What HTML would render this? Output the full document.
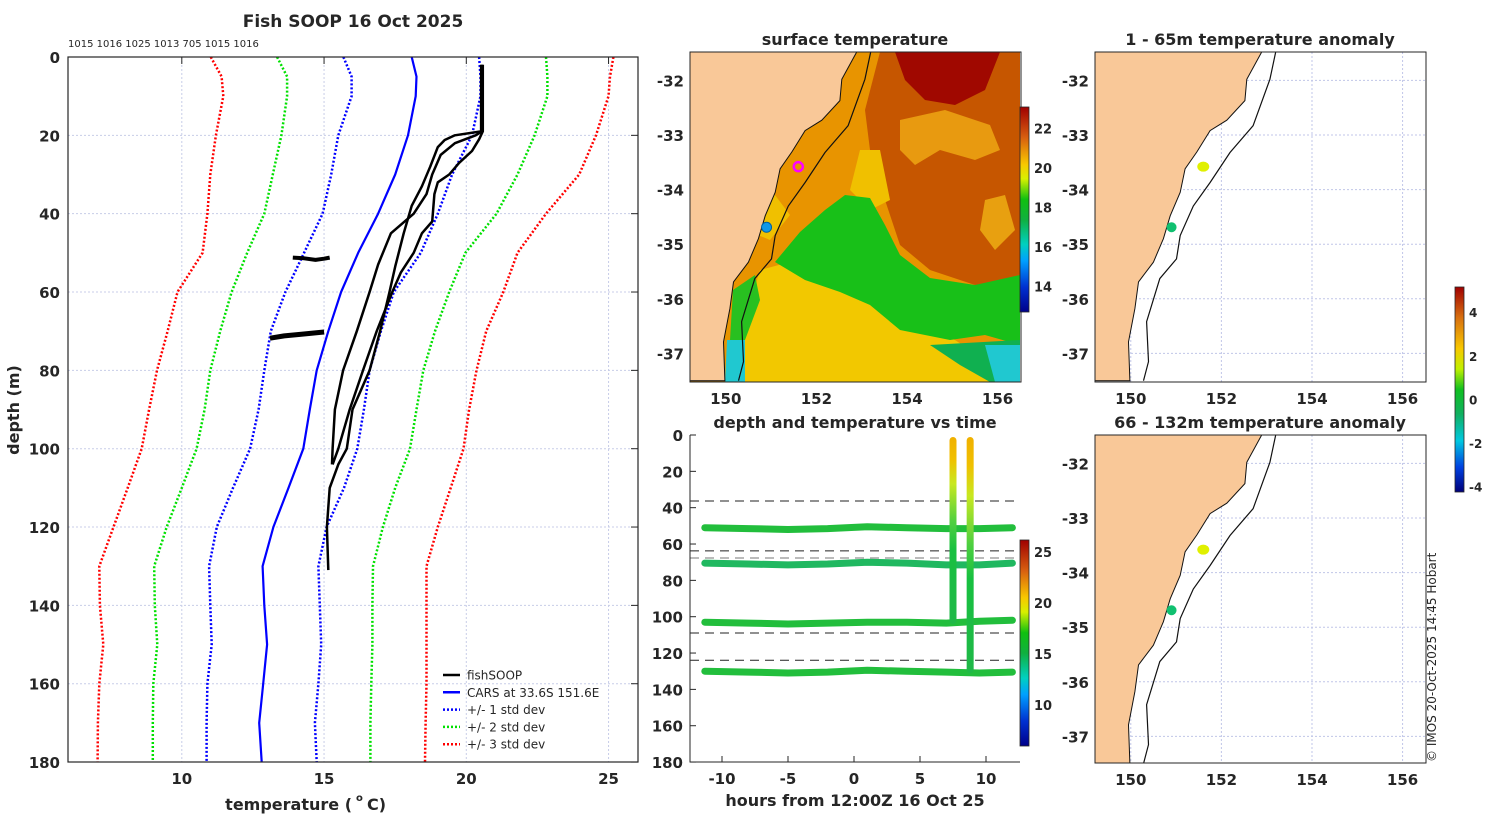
<!DOCTYPE html>
<html><head><meta charset="utf-8"><style>
html,body{margin:0;padding:0;background:#fff}
svg{display:block;font-family:"DejaVu Sans","Liberation Sans",sans-serif}
</style></head><body>
<svg id="fig" width="1500" height="820" viewBox="0 0 1500 820" xmlns="http://www.w3.org/2000/svg">
<defs>
<linearGradient id="sstcb" x1="0" y1="1" x2="0" y2="0">
<stop offset="0" stop-color="#00008a"/><stop offset="0.12" stop-color="#0030d0"/><stop offset="0.25" stop-color="#00a0ff"/><stop offset="0.33" stop-color="#00d0c0"/><stop offset="0.45" stop-color="#10b040"/><stop offset="0.55" stop-color="#10c010"/><stop offset="0.65" stop-color="#d8f000"/><stop offset="0.72" stop-color="#f8c800"/><stop offset="0.85" stop-color="#d86010"/><stop offset="1" stop-color="#a00000"/></linearGradient>
<linearGradient id="anomcb" x1="0" y1="1" x2="0" y2="0">
<stop offset="0" stop-color="#00007a"/><stop offset="0.12" stop-color="#0040e0"/><stop offset="0.25" stop-color="#00c8e0"/><stop offset="0.38" stop-color="#10b060"/><stop offset="0.5" stop-color="#10c020"/><stop offset="0.6" stop-color="#c0f000"/><stop offset="0.7" stop-color="#f8c800"/><stop offset="0.85" stop-color="#d87010"/><stop offset="1" stop-color="#a00000"/></linearGradient>
<linearGradient id="vtrack" x1="0" y1="0" x2="0" y2="1">
<stop offset="0" stop-color="#f0b000"/><stop offset="0.12" stop-color="#f0c000"/><stop offset="0.25" stop-color="#c8e820"/><stop offset="0.45" stop-color="#50d040"/><stop offset="0.6" stop-color="#18c040"/><stop offset="1" stop-color="#20b848"/></linearGradient>
<clipPath id="clipMid"><rect x="690" y="52" width="330" height="330"/></clipPath>
<clipPath id="clipR1"><rect x="1095" y="52" width="331" height="330"/></clipPath>
<clipPath id="clipR2"><rect x="1095" y="435" width="331" height="328"/></clipPath>
</defs>
</svg>
<script>
// ---------- data ----------
const profDepths = [0,5,10,20,30,40,50,60,70,80,90,100,110,120,130,140,150,160,170,180];
const carsMean  = [18.08,18.25,18.22,17.95,17.5,16.9,16.2,15.6,15.15,14.74,14.5,14.27,13.75,13.22,12.84,12.9,13.0,12.86,12.72,12.81];
const std1Low   = [15.68,15.97,15.97,15.5,15.25,14.95,14.3,13.64,13.13,12.9,12.7,12.4,11.8,11.23,10.96,11.0,11.05,10.9,10.87,10.87];
const std1High  = [20.45,20.5,20.5,20.2,19.5,19.0,18.4,17.45,17.0,16.6,16.4,16.17,15.7,15.09,14.8,14.85,14.9,14.8,14.68,14.74];
const std2Low   = [13.35,13.7,13.7,13.5,13.2,12.9,12.3,11.75,11.35,11.0,10.8,10.52,10.0,9.47,9.03,9.05,9.14,9.0,8.98,8.98];
const std2High  = [22.8,22.85,22.85,22.4,21.8,21.06,19.97,19.4,18.9,18.49,18.25,18.02,17.5,17.07,16.72,16.7,16.7,16.66,16.63,16.63];
const std3Low   = [11.02,11.4,11.46,11.2,11.0,10.9,10.73,9.85,9.5,9.13,8.85,8.59,8.1,7.6,7.1,7.12,7.24,7.1,7.05,7.04];
const std3High  = [25.17,25.05,25.0,24.56,23.97,22.8,21.8,21.3,20.7,20.36,20.1,19.9,19.45,19.0,18.6,18.6,18.6,18.6,18.57,18.55];
const fishA_d = [2,19,20,21.2,23,28,33,38,45,53.5,60,70,80,90,100,104,110,120,131];
const fishA_t = [20.52,20.52,19.6,19.24,19.0,18.73,18.44,18.08,17.8,17.5,17.3,16.97,16.6,16.0,15.8,15.5,15.2,15.1,15.15];
const fishB_d = [2,19,20,22,25,30,35,40,45,53,60,70,80,90,100,104];
const fishB_t = [20.55,20.55,20.33,19.6,19.1,18.8,18.6,18.15,17.35,16.9,16.6,16.15,15.67,15.38,15.3,15.28];
const fishC_d = [2,19,21,24,27,30,32,35,42,45,50,55,60,70,80,90,100,104];
const fishC_t = [20.58,20.58,20.45,20.2,19.75,19.4,19.0,18.88,18.8,18.44,18.15,17.7,17.4,16.85,16.37,15.9,15.5,15.3];
const drift1_t = [13.9,14.3,14.7,15.0,15.2];
const drift1_d = [51.2,51.4,51.8,51.5,51.2];
const drift2_t = [13.1,13.6,14.2,14.6,15.0];
const drift2_d = [71.8,71.2,70.8,70.5,70.2];
const profXTicks = [10,15,20,25];
const profYTicks = [0,20,40,60,80,100,120,140,160,180];
const serialText = "1015 1016 1025 1013 705 1015 1016";

const coastLon = [149.21,152.89,152.56,152.52,152.12,151.75,151.46,151.2,151.09,150.87,150.72,150.5,150.17,150.09,149.95,149.98,149.21];
const coastLat = [-31.48,-31.48,-31.98,-32.37,-32.73,-32.92,-33.31,-33.62,-34.05,-34.48,-34.9,-35.33,-35.69,-36.18,-36.79,-37.5,-37.5];
const isoLon = [153.2,153.07,152.7,152.19,151.75,151.38,151.09,151.01,150.64,150.35,150.39,150.28];
const isoLat = [-31.48,-31.98,-32.83,-33.32,-33.87,-34.3,-34.84,-35.27,-35.63,-36.42,-37.15,-37.5];
const lonTicks = [150,152,154,156];
const latTicks = [-32,-33,-34,-35,-36,-37];
const stationLon = [151.6,150.9];
const stationLat = [-33.58,-34.69];
const anomShallow = [2.0,0.2];
const anomDeep = [2.1,0.3];
const sstTicks = [14,16,18,20,22];
const anomTicks = [-4,-2,0,2,4];

const trackHours = [-11.3,-8,-5,-2,1,4,7,9.5,12];
const track1Depth = [51,51.5,52,51.5,50.5,51,51.5,51.5,51];
const track2Depth = [70.5,71,71.5,71,70,70.5,71.5,71.5,70.5];
const track3Depth = [103,103.5,104,103.5,103,103,103.5,102.5,102];
const track4Depth = [130,130.5,131,130.5,129.5,130,130.5,131,130.5];
const castHours = [7.5,8.8];
const castBottom = [103,130];
const dashDepths = [36.3,63.8,67.7,109,124];
const timeXTicks = [-10,-5,0,5,10];
const timeYTicks = [0,20,40,60,80,100,120,140,160,180];
const timeCbTicks = [10,15,20,25];

// ---------- helpers ----------
const svg = document.getElementById('fig');
const NS = 'http://www.w3.org/2000/svg';
function mk(tag, attrs, parent){const e=document.createElementNS(NS,tag);for(const k in attrs)e.setAttribute(k,attrs[k]);(parent||svg).appendChild(e);return e;}
function txt(x,y,s,size,anchor,weight,parent){const e=mk('text',{x:x,y:y,'font-size':size,'text-anchor':anchor||'middle','font-weight':weight||'bold',fill:'#262626'},parent);e.textContent=s;return e;}

// ---------- profile panel ----------
const tx = t => 68 + (t-6)*28.45;
const dy = d => 57 + d*3.917;
let g, e;
g = mk('g',{});


profXTicks.forEach(t=>{
  e = mk('line',{x1:tx(t),x2:tx(t),y1:57,y2:762,stroke:'#c8cde8','stroke-width':1,'stroke-dasharray':'2,2'},g);
  
  
  e = txt(tx(t),784,String(t),15,'middle','bold',g);
  
  
  e = mk('line',{x1:tx(t),x2:tx(t),y1:57,y2:64,stroke:'#262626'},g);
  
  
});
profYTicks.forEach(d=>{
  e = mk('line',{x1:68,x2:638,y1:dy(d),y2:dy(d),stroke:'#c8cde8','stroke-width':1,'stroke-dasharray':'2,2'},g);
  
  
  e = txt(60,dy(d)+6,String(d),15,'end','bold',g);
  
  
  e = mk('line',{x1:631,x2:638,y1:dy(d),y2:dy(d),stroke:'#262626'},g);
  
  
});
function profLine(temps,depths,color,dash,w,name){
  const pts = temps.map((t,i)=>tx(t).toFixed(1)+','+dy(depths[i]).toFixed(1)).join(' ');
  const a = {points:pts,fill:'none',stroke:color,'stroke-width':w,'stroke-linejoin':'round'};
  if(dash) a['stroke-dasharray']=dash;
  const l = mk('polyline',a,g);
  
  
  return l;
}
profLine(std3Low,profDepths,'#ff0000','2,2',2.5,'minus-3-std-line');
profLine(std3High,profDepths,'#ff0000','2,2',2.5,'plus-3-std-line');
profLine(std2Low,profDepths,'#00e000','2,2',2.5,'minus-2-std-line');
profLine(std2High,profDepths,'#00e000','2,2',2.5,'plus-2-std-line');
profLine(std1Low,profDepths,'#0000ff','2,2',2.5,'minus-1-std-line');
profLine(std1High,profDepths,'#0000ff','2,2',2.5,'plus-1-std-line');
profLine(carsMean,profDepths,'#0000ff',null,2.2,'cars-mean-line');
profLine(fishA_t,fishA_d,'#000',null,2.5,'fishsoop-profile-a');
profLine(fishB_t,fishB_d,'#000',null,2.5,'fishsoop-profile-b');
profLine(fishC_t,fishC_d,'#000',null,2.5,'fishsoop-profile-c');
profLine(drift1_t,drift1_d,'#000',null,4,'fishsoop-drift-51m');
profLine(drift2_t,drift2_d,'#000',null,5,'fishsoop-drift-71m');
e = mk('rect',{x:68,y:57,width:570,height:705,fill:'none',stroke:'#262626','stroke-width':1.2},g);


e = txt(353,27,'Fish SOOP 16 Oct 2025',17,'middle','bold',g);


e = txt(68,47,serialText,10,'start','normal',g);


e = txt(352,810,'temperature (',16,'end','bold',g);


e = txt(356,801,'o',10,'start','bold',g);


e = txt(367,810,' C)',16,'start','bold',g);


e = txt(0,0,'depth (m)',16,'middle','bold',g);
e.setAttribute('transform','translate(19,410) rotate(-90)');


// legend
const legNames = ['fishSOOP','CARS at 33.6S 151.6E','+/- 1 std dev','+/- 2 std dev','+/- 3 std dev'];
const legColors = ['#000','#0000ff','#0000ff','#00e000','#ff0000'];
const legDash = [null,null,'2,2','2,2','2,2'];
legNames.forEach((n,i)=>{
  const y = 675 + i*17.3;
  const a = {x1:443,x2:460,y1:y,y2:y,stroke:legColors[i],'stroke-width':2.5};
  if(legDash[i]) a['stroke-dasharray']=legDash[i];
  e = mk('line',a,g);
  
  
  e = txt(467,y+4.5,n,12,'start','normal',g);
  
  
});

// ---------- map helpers ----------
const mapX = (lon,x0) => x0 + (lon-149.21)*45.3;
const mapY = (lat,y0) => y0 + (-31.48-lat)*54.6;
function drawMapBase(x0,y0,grp,withGrid){
  if(withGrid){
    lonTicks.forEach(l=>{e=mk('line',{x1:mapX(l,x0),x2:mapX(l,x0),y1:y0,y2:y0+330,stroke:'#c0c6e8','stroke-dasharray':'2,2'},grp);
      
      });
    latTicks.forEach(l=>{e=mk('line',{x1:x0,x2:x0+331,y1:mapY(l,y0),y2:mapY(l,y0),stroke:'#c0c6e8','stroke-dasharray':'2,2'},grp);
      
      });
  }
  e = mk('polygon',{points:coastLon.map((l,i)=>mapX(l,x0).toFixed(1)+','+mapY(coastLat[i],y0).toFixed(1)).join(' '),fill:'#f9c898',stroke:'#111','stroke-width':1},grp);
  
  
  e = mk('polyline',{points:isoLon.map((l,i)=>mapX(l,x0).toFixed(1)+','+mapY(isoLat[i],y0).toFixed(1)).join(' '),fill:'none',stroke:'#111','stroke-width':1.2},grp);
  
  
}
function mapAxes(x0,y0,h,grp,showLon){
  e = mk('rect',{x:x0,y:y0,width:331,height:h,fill:'none',stroke:'#262626','stroke-width':1},grp);
  
  
  latTicks.forEach(l=>{
    e = txt(x0-6,mapY(l,y0)+6,String(l),15,'end','bold',grp);
    
    
  });
  if(showLon) lonTicks.forEach(l=>{
    e = txt(mapX(l,x0),y0+h+22,String(l),15,'middle','bold',grp);
    
    
  });
}

// ---------- surface temperature map ----------
g = mk('g',{});


const sg = mk('g',{'clip-path':'url(#clipMid)'},g);


const sstShapes = [
 ['#e89400','690,52 1020,52 1020,382 690,382'],
 ['#c65600','880,52 1020,52 1020,285 975,285 930,270 900,245 885,200 870,150 865,110'],
 ['#a00800','895,52 1000,52 985,90 955,105 925,100 905,80'],
 ['#e89a10','900,120 945,110 990,125 1000,150 975,160 940,150 915,165 900,150'],
 ['#e8a010','985,200 1005,195 1015,230 995,250 980,230'],
 ['#f0c000','860,150 880,150 890,200 870,210 850,190'],
 ['#f2c800','760,270 790,262 830,285 870,300 905,318 955,340 1000,370 1010,382 735,382 745,320'],
 ['#18c018','775,262 800,232 825,210 845,195 870,198 885,225 900,255 930,278 975,285 1020,275 1020,345 985,335 950,340 900,330 870,305 840,292 805,280'],
 ['#10b050','930,345 1020,340 1020,382 990,382 960,365'],
 ['#20c8d0','985,345 1020,345 1020,382 995,382'],
 ['#20c8d0','727,340 745,340 745,382 725,382'],
 ['#28c020','733,290 755,275 760,300 745,340 730,340'],
 ['#f0c000','760,200 775,195 790,215 770,240 758,235']
];
sstShapes.forEach(s=>{
  e = mk('polygon',{points:s[1],fill:s[0]},sg);
  
  
});
drawMapBase(690,52,sg,false);
e = mk('circle',{cx:mapX(stationLon[1],690),cy:mapY(stationLat[1],52),r:5,fill:'#1098e8',stroke:'#0060a0'},sg);


e = mk('circle',{cx:mapX(stationLon[0],690),cy:mapY(stationLat[0],52),r:4.5,fill:'none',stroke:'#ff00ff','stroke-width':2.5},sg);


mapAxes(690,52,330,g,true);
e = txt(855,45,'surface temperature',16,'middle','bold',g);


// SST colorbar
const sstMin=12.7, sstMax=23.1, cbTop=107, cbBot=312;
const sstY = v => cbBot - (v-sstMin)/(sstMax-sstMin)*(cbBot-cbTop);
e = mk('rect',{x:1020,y:cbTop,width:9,height:cbBot-cbTop,fill:'url(#sstcb)',stroke:'#262626','stroke-width':0.8},g);


sstTicks.forEach(v=>{
  e = txt(1034,sstY(v)+5,String(v),13,'start','bold',g);
  
  
});

// ---------- anomaly maps ----------
function anomMap(y0,vals,title,titleY,name){
  const grp = mk('g',{});
  
  
  const cg = mk('g',{'clip-path':y0<100?'url(#clipR1)':'url(#clipR2)'},grp);
  drawMapBase(1095,y0,cg,true);
  vals.forEach((v,i)=>{
    const col = v>1.5 ? '#e0f000' : '#10c070';
    const c = mk('ellipse',{cx:mapX(stationLon[i],1095),cy:mapY(stationLat[i],y0),rx:i==0?6:5,ry:5,fill:col},cg);
    
    
  });
  mapAxes(1095,y0,y0<100?330:328,grp,true);
  const t = txt(1260,titleY,title,16,'middle','bold',grp);
  
  
}
anomMap(52,anomShallow,'1 - 65m temperature anomaly',45,'shallow-anomaly-map');
anomMap(435,anomDeep,'66 - 132m temperature anomaly',428,'deep-anomaly-map');
g = mk('g',{});


const anMin=-4.2, anMax=5.2, acTop=287, acBot=492;
const anY = v => acBot - (v-anMin)/(anMax-anMin)*(acBot-acTop);
e = mk('rect',{x:1455,y:acTop,width:9,height:acBot-acTop,fill:'url(#anomcb)',stroke:'#262626','stroke-width':0.8},g);


anomTicks.forEach(v=>{
  e = txt(1469,anY(v)+4,String(v),12,'start','bold',g);
  
  
});

// ---------- depth/time panel ----------
g = mk('g',{});


const hx = h => 854 + h*13.2;
const ty = d => 435 + d*1.817;
dashDepths.forEach((d,i)=>{
  e = mk('line',{x1:690,x2:1020,y1:ty(d),y2:ty(d),stroke:i==2?'#777':'#222','stroke-width':1,'stroke-dasharray':'9,6'},g);
  
  
});
[track1Depth,track2Depth,track3Depth,track4Depth].forEach((tr,k)=>{
  e = mk('polyline',{points:trackHours.map((h,i)=>hx(h).toFixed(1)+','+ty(tr[i]).toFixed(1)).join(' '),fill:'none',stroke:k==1?'#20b860':'#22be3c','stroke-width':7,'stroke-linecap':'round','stroke-linejoin':'round'},g);
  
  
});
castHours.forEach((h,i)=>{
  e = mk('rect',{x:hx(h)-3.5,y:ty(0)+2,width:7,height:ty(castBottom[i])-ty(0),rx:3.5,fill:'url(#vtrack)'},g);
  
  
});
e = mk('polyline',{points:'690,435 690,762 1020,762',fill:'none',stroke:'#262626','stroke-width':1},g);


timeXTicks.forEach(h=>{
  e = mk('line',{x1:hx(h),x2:hx(h),y1:762,y2:756,stroke:'#262626'},g);
  
  
  e = txt(hx(h),784,String(h),15,'middle','bold',g);
  
  
});
timeYTicks.forEach(d=>{
  e = mk('line',{x1:690,x2:696,y1:ty(d),y2:ty(d),stroke:'#262626'},g);
  
  
  e = txt(683,ty(d)+6,String(d),15,'end','bold',g);
  
  
});
e = txt(855,428,'depth and temperature vs time',16,'middle','bold',g);


e = txt(855,806,'hours from 12:00Z 16 Oct 25',16,'middle','bold',g);


const tcMin=6, tcMax=26.2, tcTop=540, tcBot=746;
const tcY = v => tcBot - (v-tcMin)/(tcMax-tcMin)*(tcBot-tcTop);
e = mk('rect',{x:1020,y:tcTop,width:9,height:tcBot-tcTop,fill:'url(#sstcb)',stroke:'#262626','stroke-width':0.8},g);


timeCbTicks.forEach(v=>{
  e = txt(1034,tcY(v)+5,String(v),13,'start','bold',g);
  
  
});

// credit
e = txt(0,0,'\u00A9 IMOS 20-Oct-2025 14:45 Hobart',12,'start','normal');
e.setAttribute('transform','translate(1436,762) rotate(-90)');


</script>
</body></html>
